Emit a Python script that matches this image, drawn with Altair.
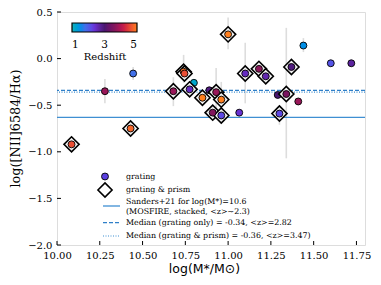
import altair as alt
import pandas as pd

# ---- data ----
mass = [10.085, 10.43, 10.445, 10.28, 10.68, 10.74, 10.745, 10.80, 10.775, 10.85,
        10.89, 10.93, 10.96, 10.91, 10.96, 11.00, 11.065, 11.10, 11.18, 11.22,
        11.29, 11.34, 11.30, 11.37, 11.41, 11.44, 11.60, 11.72]
ratio = [-0.92, -0.75, -0.16, -0.35, -0.35, -0.14, -0.16, -0.26, -0.33, -0.42,
         -0.34, -0.36, -0.44, -0.58, -0.61, 0.26, -0.58, -0.16, -0.11, -0.19,
         -0.39, -0.38, -0.59, -0.09, -0.46, 0.14, -0.05, -0.05]
redshift = [4.6, 4.8, 1.8, 3.8, 3.8, 4.9, 4.6, 1.2, 2.5, 5.0,
            2.9, 3.8, 5.0, 3.6, 2.2, 5.0, 2.4, 2.5, 3.7, 2.6,
            3.0, 3.5, 2.2, 2.9, 3.8, 1.5, 2.1, 2.7]
prism = [True, True, False, False, True, True, True, False, True, True,
         False, True, True, True, True, True, False, True, True, True,
         False, True, True, True, False, False, False, False]
err_lo = [None, None, -0.23, -0.48, -0.51, -0.26, None, None, None, None,
          None, -0.55, -0.69, -0.66, -0.70, 0.10, None, -0.48, None, None,
          None, -1.07, -0.71, None, None, 0.07, None, None]
err_hi = [None, None, -0.09, -0.22, -0.20, 0.04, None, None, None, None,
          None, -0.10, -0.25, -0.50, -0.55, 0.44, None, 0.17, None, None,
          None, 0.33, -0.53, None, None, 0.22, None, None]

sanders = -0.63
median_grating = -0.34
median_prism = -0.36

x_ticks = [10.0, 10.25, 10.5, 10.75, 11.0, 11.25, 11.5, 11.75]
y_ticks = [-2.0, -1.5, -1.0, -0.5, 0.0, 0.5]

z_stops = [1.0, 1.6667, 2.3333, 3.0, 3.6667, 4.3333, 5.0]
z_colors = ["#1fb3b5", "#3f7be8", "#6a35de", "#4a1870", "#861a5a", "#d62c3c", "#ff7f1e"]

df = pd.DataFrame({"mass": mass, "ratio": ratio, "z": redshift, "prism": prism,
                   "lo": err_lo, "hi": err_hi})
err_df = df.dropna(subset=["lo", "hi"])
grat_df = df[~df["prism"]]
prism_df = df[df["prism"]]

W, H = 308, 233
FONT = "DejaVu Serif"
xs = alt.Scale(domain=[10.0, 11.8], nice=False, zero=False)
ys = alt.Scale(domain=[-2.0, 0.5], nice=False, zero=False)

xax = alt.Axis(values=x_ticks, format=".2f", tickSize=0, domain=False, grid=False,
               labelOverlap=False, labelFlush=False,
               labelFont=FONT, labelFontSize=10, labelColor="black", labelPadding=5,
               title="log(M*/M⊙)", titleFont="DejaVu Sans", titleFontSize=12.5,
               titleFontWeight="normal", titleColor="black",
               titleX=147, titleY=23, titleBaseline="middle", titleAnchor="middle")
yax = alt.Axis(values=y_ticks, format=".1f", tickSize=0, domain=False, grid=False,
               labelOverlap=False, labelFlush=False,
               labelFont=FONT, labelFontSize=10, labelColor="black", labelPadding=5,
               title="log([NII]6584/Hα)", titleFont=FONT, titleFontSize=12.8,
               titleFontWeight="normal", titleColor="black",
               titleX=-42, titleY=116, titleAngle=-90, titleBaseline="middle",
               titleAlign="center")

color = alt.Color("z:Q", scale=alt.Scale(domain=z_stops, range=z_colors),
                  legend=alt.Legend(orient="none", legendX=15, legendY=11,
                                    direction="horizontal", gradientLength=65,
                                    gradientThickness=9, gradientStrokeColor="black",
                                    gradientStrokeWidth=1.2, values=[1, 3, 5],
                                    format="d", labelOverlap=False, labelOffset=8,
                                    labelFont=FONT, labelFontSize=10.5, labelColor="black",
                                    title="Redshift", titleOrient="bottom",
                                    titleFont=FONT, titleFontSize=10,
                                    titleFontWeight="normal", titleColor="black",
                                    titleAnchor="middle", titlePadding=1))

errbars = alt.Chart(err_df).mark_rule(color="#dddddd", strokeWidth=1.6).encode(
    x=alt.X("mass:Q", scale=xs, axis=xax), y=alt.Y("lo:Q", scale=ys, axis=yax), y2="hi:Q")

line_s = alt.Chart(pd.DataFrame({"v": [sanders]})).mark_rule(color="#3f8fd2", strokeWidth=1.3).encode(
    y=alt.Y("v:Q", scale=ys))
line_g = alt.Chart(pd.DataFrame({"v": [median_grating]})).mark_rule(
    color="#2f7fc8", strokeWidth=1.3, strokeDash=[4, 2]).encode(y=alt.Y("v:Q", scale=ys))
line_p = alt.Chart(pd.DataFrame({"v": [median_prism]})).mark_rule(
    color="#3f8fd2", strokeWidth=1.2, strokeDash=[1, 1.5]).encode(y=alt.Y("v:Q", scale=ys))

grat_pts = alt.Chart(grat_df).mark_point(shape="circle", filled=True, size=48, opacity=1,
                                         stroke="black", strokeWidth=0.9).encode(
    x=alt.X("mass:Q", scale=xs), y=alt.Y("ratio:Q", scale=ys), color=color)

diamonds = alt.Chart(prism_df).mark_point(shape="diamond", filled=True, size=230, opacity=1,
                                          fill="#f2f2f2", stroke="black", strokeWidth=1.6).encode(
    x=alt.X("mass:Q", scale=xs), y=alt.Y("ratio:Q", scale=ys))

prism_pts = alt.Chart(prism_df).mark_point(shape="circle", filled=True, size=48, opacity=1,
                                           stroke="black", strokeWidth=0.9).encode(
    x=alt.X("mass:Q", scale=xs), y=alt.Y("ratio:Q", scale=ys), color=color)

# inward ticks
xt = alt.Chart(pd.DataFrame({"t": x_ticks})).mark_rule(color="black", strokeWidth=1).encode(
    x=alt.X("t:Q", scale=xs), y=alt.value(H), y2=alt.value(H - 4))
yt = alt.Chart(pd.DataFrame({"t": y_ticks})).mark_rule(color="black", strokeWidth=1).encode(
    y=alt.Y("t:Q", scale=ys), x=alt.value(0), x2=alt.value(4))

one = pd.DataFrame({"a": [0]})
cb_tick = alt.Chart(one).mark_rule(color="#222222", strokeWidth=1.5).encode(
    x=alt.value(47.5), y=alt.value(15), y2=alt.value(20))

# manual legend
leg = []
leg.append(alt.Chart(one).mark_point(shape="circle", filled=True, size=48, opacity=1,
                                     fill="#5a3fe0", stroke="black", strokeWidth=0.9).encode(
    x=alt.value(48), y=alt.value(164.5)))
leg.append(alt.Chart(one).mark_point(shape="diamond", filled=True, size=200, opacity=1,
                                     fill="white", stroke="black", strokeWidth=1.6).encode(
    x=alt.value(48), y=alt.value(178)))
leg.append(alt.Chart(one).mark_rule(color="#3f8fd2", strokeWidth=1.3).encode(
    x=alt.value(46), x2=alt.value(63), y=alt.value(194)))
leg.append(alt.Chart(one).mark_rule(color="#2f7fc8", strokeWidth=1.3, strokeDash=[4, 2]).encode(
    x=alt.value(46), x2=alt.value(63), y=alt.value(210.7)))
leg.append(alt.Chart(one).mark_rule(color="#3f8fd2", strokeWidth=1.2, strokeDash=[1, 1.5]).encode(
    x=alt.value(46), x2=alt.value(63), y=alt.value(224)))
texts = [("grating", 164.7), ("grating & prism", 178), ("Sanders+21 for log(M*)=10.6", 189.7),
         ("(MOSFIRE, stacked, <z>~2.3)", 199.5),
         ("Median (grating only) = -0.34, <z>=2.82", 210.7),
         ("Median (grating & prism) = -0.36, <z>=3.47)", 224)]
for t, yy in texts:
    leg.append(alt.Chart(one).mark_text(text=t, font=FONT, fontSize=7.9, align="left",
                                        baseline="middle", color="black").encode(
        x=alt.value(69), y=alt.value(yy)))

chart = alt.layer(errbars, line_s, line_g, line_p, grat_pts, diamonds, prism_pts,
                  xt, yt, cb_tick, *leg).properties(
    width=W, height=H,
    autosize=alt.AutoSizeParams(type="none"),
    padding={"left": 49, "top": 4, "right": 8, "bottom": 32},
).configure_view(stroke="black", strokeWidth=1.2).configure(background="white")

chart.save("out.html", embed_options={"renderer": "svg", "actions": False})
